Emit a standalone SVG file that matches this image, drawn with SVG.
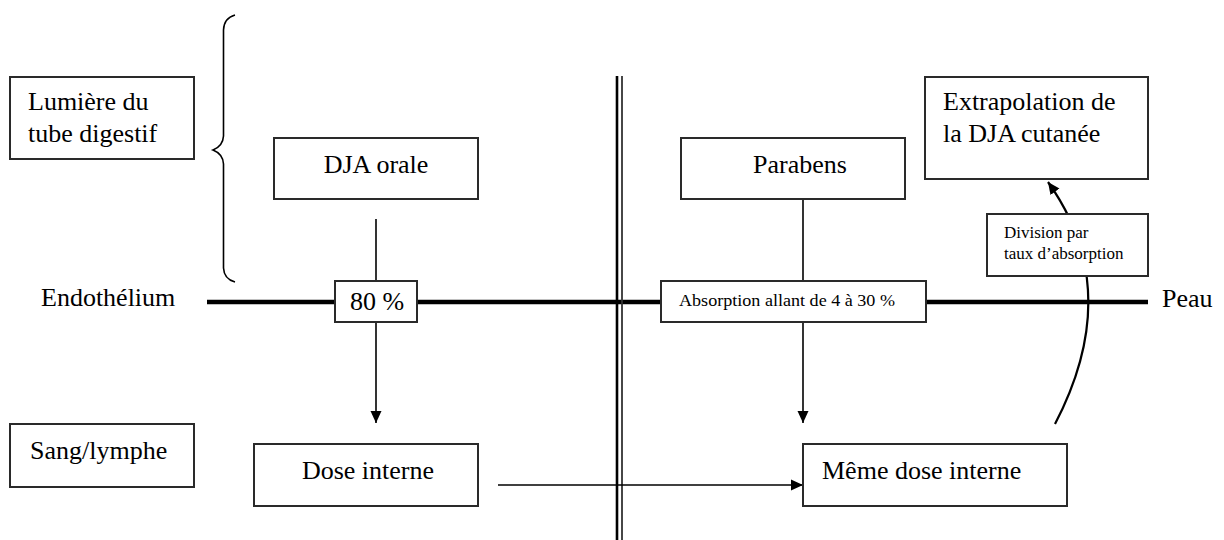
<svg xmlns="http://www.w3.org/2000/svg" width="1224" height="540" viewBox="0 0 1224 540">
<style>
.box{fill:#fff;stroke:#2a2a2a;stroke-width:2}
.t{font-family:"Liberation Serif","Times New Roman",serif;font-size:26px;fill:#000}
.s{font-family:"Liberation Serif","Times New Roman",serif;font-size:17px;fill:#000}
.ln{fill:none;stroke:#000;stroke-width:1.6}
</style>
<defs>
<marker id="ah" viewBox="0 0 12 12" refX="12" refY="6" markerWidth="12" markerHeight="12" markerUnits="userSpaceOnUse" orient="auto">
<path d="M0,0.5 L12,6 L0,11.5 Z" fill="#000"/>
</marker>
</defs>
<rect width="1224" height="540" fill="#fff"/>
<g id="connectors">
<line x1="207" y1="302" x2="1148" y2="302" stroke="#000" stroke-width="4.5"/>
<line x1="617" y1="76" x2="617" y2="540" stroke="#000" stroke-width="2.6"/>
<line x1="622" y1="76" x2="622" y2="540" stroke="#333" stroke-width="1.8"/>
<path class="ln" d="M235,15 Q224,18 223.5,30 L223.5,136 Q223,146 213,150 Q223,154 223.5,164 L223.5,268 Q224,279 235,282"/>
<line class="ln" x1="376" y1="219" x2="376" y2="281"/>
<line class="ln" x1="376" y1="322" x2="376" y2="423" marker-end="url(#ah)"/>
<line class="ln" x1="803" y1="199" x2="803" y2="281"/>
<line class="ln" x1="803" y1="322" x2="803" y2="423" marker-end="url(#ah)"/>
<line class="ln" x1="498" y1="485" x2="803" y2="485" marker-end="url(#ah)"/>
<path d="M1055,424 Q1125,290 1048,182" fill="none" stroke="#000" stroke-width="2.2" marker-end="url(#ah)"/>
</g>
<g id="lumiere">
<rect class="box" x="10" y="77" width="184" height="82"/>
<text class="t" x="28" y="110">Lumière du</text>
<text class="t" x="28" y="142">tube digestif</text>
</g>
<g id="endothelium"><text class="t" x="41" y="306">Endothélium</text></g>
<g id="peau"><text class="t" x="1162" y="307">Peau</text></g>
<g id="sang">
<rect class="box" x="10" y="424" width="184" height="63"/>
<text class="t" x="30" y="459">Sang/lymphe</text>
</g>
<g id="dja-orale">
<rect class="box" x="274" y="138" width="204" height="61"/>
<text class="t" x="376" y="173" text-anchor="middle">DJA orale</text>
</g>
<g id="pct80">
<rect class="box" x="335" y="281" width="82" height="41"/>
<text class="t" x="377" y="310" text-anchor="middle" font-size="19">80 %</text>
</g>
<g id="dose-interne">
<rect class="box" x="254" y="444" width="224" height="62"/>
<text class="t" x="368" y="479" text-anchor="middle">Dose interne</text>
</g>
<g id="parabens">
<rect class="box" x="681" y="138" width="224" height="61"/>
<text class="t" x="800" y="173" text-anchor="middle">Parabens</text>
</g>
<g id="absorption">
<rect class="box" x="661" y="281" width="265" height="41"/>
<text class="s" x="679" y="306" textLength="216" lengthAdjust="spacingAndGlyphs">Absorption allant de 4 à 30 %</text>
</g>
<g id="meme-dose">
<rect class="box" x="803" y="444" width="264" height="62"/>
<text class="t" x="822" y="479">Même dose interne</text>
</g>
<g id="division">
<rect class="box" x="987" y="214" width="161" height="62"/>
<text class="s" x="1004" y="238">Division par</text>
<text class="s" x="1004" y="259">taux d’absorption</text>
</g>
<g id="extrapolation">
<rect class="box" x="925" y="77" width="223" height="102"/>
<text class="t" x="943" y="110">Extrapolation de</text>
<text class="t" x="943" y="142">la DJA cutanée</text>
</g>
</svg>
